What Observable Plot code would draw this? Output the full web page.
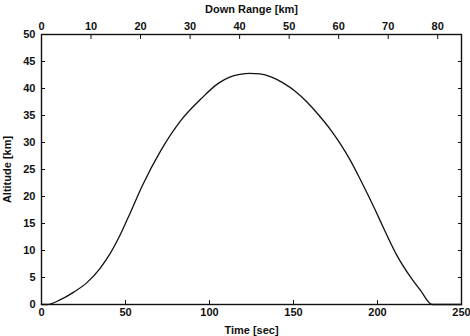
<!DOCTYPE html>
<html><head><meta charset="utf-8">
<script src="https://cdn.jsdelivr.net/npm/d3@7"></script>
<script src="https://cdn.jsdelivr.net/npm/@observablehq/plot@0.6"></script>
<style>body{margin:0;background:#fff;} svg{display:block;}</style>
</head><body><div id="chart"></div>
<script>
const time = [0, 3.4, 11.3, 19.2, 27.2, 35.1, 41, 47, 53, 60, 71, 83, 95, 105, 112, 118, 124, 130, 137, 144, 151, 158, 165, 172, 178, 184, 190, 198.8, 204, 211.7, 219.6, 225.6, 232.5, 240, 250];
const altitude = [0, 0, 0.9, 2.3, 4.1, 6.8, 9.5, 13.0, 17.1, 22.0, 28.5, 34.1, 38.1, 40.9, 42.1, 42.6, 42.8, 42.7, 42.1, 41.0, 39.5, 37.5, 35.1, 32.4, 29.7, 26.6, 23.0, 17.4, 13.9, 9.0, 5.1, 2.6, 0, 0, 0];
const timeTicks = [0, 50, 100, 150, 200, 250];
const altTicks = [0, 5, 10, 15, 20, 25, 30, 35, 40, 45, 50];
const rangeTicks = [0, 10, 20, 30, 40, 50, 60, 70, 80];
const rangeMax = 84.8; // down range at t = 250 s
const timeMax = 250;

const data = time.map((t, i) => ({t, a: altitude[i]}));
const font = "Liberation Sans, Arial, sans-serif";

const chart = Plot.plot({
  width: 470, height: 336,
  marginTop: 34, marginLeft: 41, marginRight: 9, marginBottom: 32,
  style: {fontFamily: font, fontSize: "11px", color: "#111", background: "#fff"},
  x: {domain: [0, timeMax]},
  y: {domain: [0, 50]},
  marks: [
    Plot.frame({stroke: "#111", strokeWidth: 1.4}),
    Plot.axisX(timeTicks, {anchor: "bottom", tickSize: -4, tickPadding: 8, label: "Time [sec]", labelAnchor: "center", labelArrow: "none", labelOffset: 29, fontWeight: "bold"}),
    Plot.axisX(rangeTicks.map(k => k * timeMax / rangeMax), {anchor: "top", tickSize: -4, tickPadding: 9, tickFormat: t => String(Math.round(t * rangeMax / timeMax)), label: "Down Range [km]", labelAnchor: "center", labelArrow: "none", labelOffset: 29, fontWeight: "bold"}),
    Plot.axisY(altTicks, {anchor: "left", tickSize: -4, tickPadding: 10, label: "Altitude [km]", labelAnchor: "center", labelArrow: "none", labelOffset: 38, fontWeight: "bold"}),
    Plot.axisY(altTicks, {anchor: "right", tickSize: -4, tickFormat: () => "", label: null}),
    Plot.line(data, {x: "t", y: "a", stroke: "#111", strokeWidth: 1.3, curve: "monotone-x"})
  ]
});
document.getElementById("chart").appendChild(chart);
</script></body></html>
